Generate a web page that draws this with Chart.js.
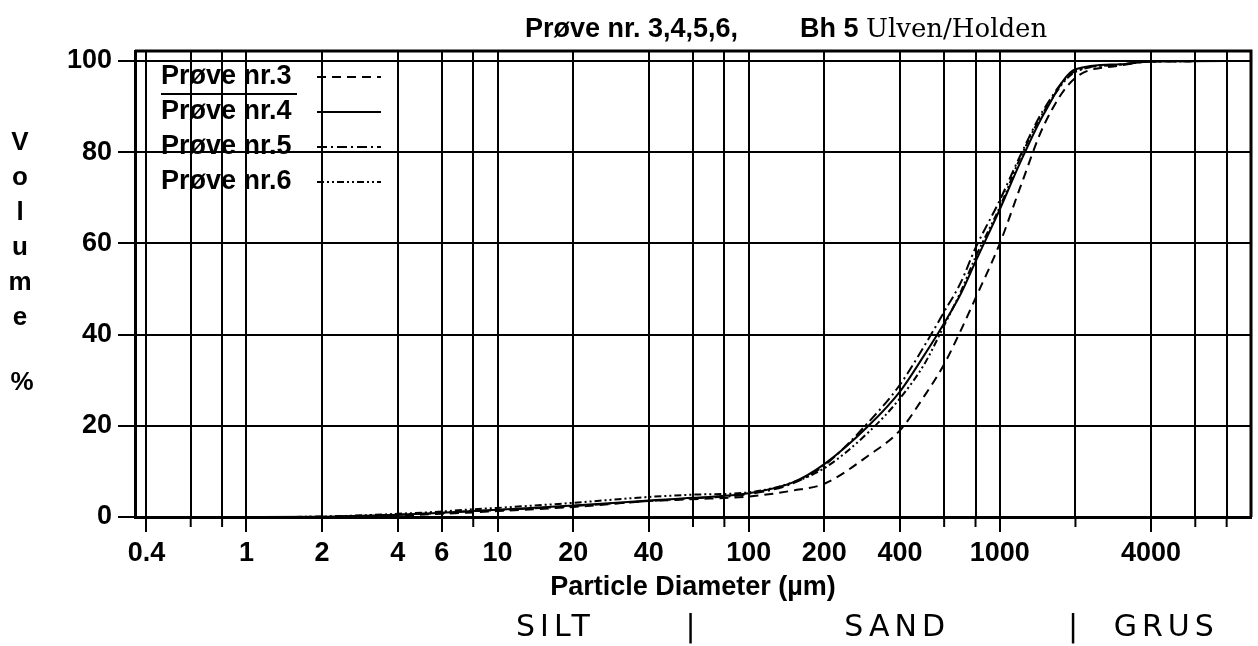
<!DOCTYPE html>
<html>
<head>
<meta charset="utf-8">
<title>Prøve nr. 3,4,5,6 Bh 5 Ulven/Holden</title>
<script src="https://cdn.jsdelivr.net/npm/chart.js@4/dist/chart.umd.min.js"></script>
<style>
  html, body { margin: 0; padding: 0; background: #fff; }
  canvas { display: block; }
</style>
</head>
<body>
<canvas id="grain-chart" width="1258" height="646"></canvas>
<script>
// particle diameters (µm) where the curves were read
const diameters = [0.36, 1, 2, 3, 4, 6, 8, 10, 20, 40, 60, 100, 150, 200, 300, 400, 500, 600, 700, 800, 1000, 1200, 1500, 2000, 3000, 4000, 10000];

// cumulative volume % for each sample
const prove3 = [0, 0, 0, 0.1, 0.3, 0.7, 1.0, 1.3, 2.2, 3.5, 3.9, 4.5, 5.8, 7.3, 13.5, 19.0, 26.5, 33.5, 41.0, 48.0, 60.0, 72.0, 86.0, 96.3, 99.0, 99.9, 100];
const prove4 = [0, 0, 0.05, 0.3, 0.5, 0.95, 1.3, 1.6, 2.5, 3.6, 4.2, 5.2, 7.6, 11.6, 20.0, 27.5, 35.5, 42.5, 49.0, 56.0, 67.5, 77.5, 88.5, 98.2, 99.3, 99.9, 100];
const prove5 = [0, 0, 0.05, 0.3, 0.5, 0.9, 1.3, 1.5, 2.4, 3.5, 4.1, 5.0, 7.4, 11.3, 20.8, 29.0, 37.5, 45.0, 51.5, 59.0, 69.5, 79.0, 89.5, 97.8, 99.2, 99.9, 100];
const prove6 = [0, 0, 0.1, 0.4, 0.7, 1.2, 1.7, 2.0, 3.1, 4.4, 4.9, 5.4, 7.6, 10.7, 18.6, 26.0, 33.5, 42.0, 49.5, 57.0, 68.0, 78.5, 89.0, 97.6, 99.2, 99.9, 100];

const seriesLabels = ['Prøve nr.3', 'Prøve nr.4', 'Prøve nr.5', 'Prøve nr.6'];
const seriesDash = [[9, 6], [], [10, 4, 2, 4], [7, 3, 2, 3, 2, 3]];

// axis ticks
const xGridValues = [0.4, 0.6, 0.8, 1, 2, 4, 6, 8, 10, 20, 40, 60, 80, 100, 200, 400, 600, 800, 1000, 2000, 4000, 6000, 8000];
const xTickLabels = [0.4, 1, 2, 4, 6, 10, 20, 40, 100, 200, 400, 1000, 4000];
const yTickValues = [0, 20, 40, 60, 80, 100];

// handwritten fraction names under the axis
const zoneTexts = ['SILT', '|', 'SAND', '|', 'GRUS'];
const zoneAt = [17, 60, 390, 2000, 4600];

const FONT = '"Liberation Sans", Arial, sans-serif';

const makePoints = vals => diameters.map((d, i) => ({ x: d, y: vals[i] }));

const framePlugin = {
  id: 'frame',
  afterDraw(chart) {
    const c = chart.ctx;
    const area = chart.chartArea;
    const xs = chart.scales.x;
    c.save();

    // top and right frame
    c.strokeStyle = '#000';
    c.lineWidth = 3;
    c.beginPath();
    c.moveTo(area.left, area.top);
    c.lineTo(area.right, area.top);
    c.lineTo(area.right, area.bottom);
    c.stroke();

    // short ticks for unlabelled grid values
    c.lineWidth = 2;
    xGridValues.filter(v => !xTickLabels.includes(v)).forEach(v => {
      const px = xs.getPixelForValue(v);
      c.beginPath();
      c.moveTo(px, area.bottom);
      c.lineTo(px, area.bottom + 10);
      c.stroke();
    });

    // legend inside the plot
    c.font = 'bold 27px ' + FONT;
    c.fillStyle = '#000';
    c.textBaseline = 'middle';
    chart.data.datasets.forEach((ds, i) => {
      const y = 77 + i * 35;
      c.fillText(ds.label, 161, y);
      c.setLineDash(ds.borderDash || []);
      c.lineWidth = 2;
      c.beginPath();
      c.moveTo(317, y);
      c.lineTo(381, y);
      c.stroke();
    });
    c.setLineDash([]);
    c.lineWidth = 2;
    c.beginPath();
    c.moveTo(161, 94);
    c.lineTo(297, 94);
    c.stroke();

    // title
    c.textBaseline = 'alphabetic';
    c.font = 'bold 27px ' + FONT;
    c.fillText('Prøve nr. 3,4,5,6,', 525, 37);
    c.fillText('Bh 5', 800, 37);
    c.font = '26px "DejaVu Serif", serif';
    c.fillText('Ulven/Holden', 866, 37);

    // vertical y title, one letter per line
    c.font = 'bold 26px ' + FONT;
    c.textAlign = 'center';
    c.textBaseline = 'middle';
    const letters = ['V', 'o', 'l', 'u', 'm', 'e'];
    letters.forEach((ch, i) => c.fillText(ch, 20, 143 + i * 35));
    c.fillText('%', 22, 383);

    // SILT | SAND | GRUS
    c.font = '30px "DejaVu Sans", sans-serif';
    c.letterSpacing = '5px';
    zoneTexts.forEach((t, i) => {
      c.fillText(t, xs.getPixelForValue(zoneAt[i]), 628);
    });
    c.restore();
  }
};

const ctx = document.getElementById('grain-chart').getContext('2d');
new Chart(ctx, {
  type: 'scatter',
  data: {
    datasets: [prove3, prove4, prove5, prove6].map((vals, i) => ({
      label: seriesLabels[i],
      data: makePoints(vals),
      showLine: true,
      borderColor: '#000',
      backgroundColor: 'transparent',
      borderWidth: 2,
      borderDash: seriesDash[i],
      pointRadius: 0,
      cubicInterpolationMode: 'monotone'
    }))
  },
  options: {
    responsive: false,
    animation: false,
    layout: { padding: { top: 51, right: 7, left: 0, bottom: 0 } },
    plugins: {
      legend: { display: false },
      tooltip: { enabled: false }
    },
    scales: {
      x: {
        type: 'logarithmic',
        min: 0.36,
        max: 10000,
        afterBuildTicks: s => { s.ticks = xGridValues.map(v => ({ value: v })); },
        afterFit: s => { s.height = 129; },
        ticks: {
          autoSkip: false,
          maxRotation: 0,
          padding: 5,
          color: '#000',
          font: { family: FONT, size: 27, weight: 'bold' },
          callback: v => xTickLabels.includes(v) ? String(v) : ''
        },
        grid: {
          color: '#000',
          lineWidth: 2,
          tickLength: 15,
          tickColor: c => (c.tick && xTickLabels.includes(c.tick.value)) ? '#000' : 'rgba(0,0,0,0)'
        },
        border: { color: '#000', width: 3 },
        title: {
          display: true,
          text: 'Particle Diameter (µm)',
          color: '#000',
          font: { family: FONT, size: 27, weight: 'bold' },
          padding: { top: 0, bottom: 42 }
        }
      },
      y: {
        min: 0,
        max: 102.2,
        afterBuildTicks: s => { s.ticks = yTickValues.map(v => ({ value: v })); },
        afterFit: s => { s.width = 135; },
        ticks: {
          padding: 6,
          color: '#000',
          font: { family: FONT, size: 27, weight: 'bold' }
        },
        grid: { color: '#000', lineWidth: 2, tickLength: 17 },
        border: { color: '#000', width: 3 }
      }
    }
  },
  plugins: [framePlugin]
});
</script>
</body>
</html>
